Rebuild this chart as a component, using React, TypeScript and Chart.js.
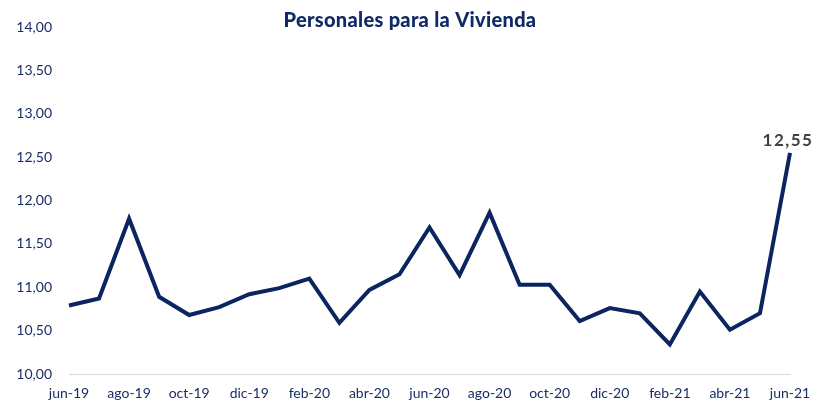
import React, { useEffect, useRef } from "react";
import { Chart, registerables } from "chart.js";

Chart.register(...registerables);

const months: string[] = [
  "jun-19", "jul-19", "ago-19", "sep-19", "oct-19", "nov-19", "dic-19",
  "ene-20", "feb-20", "mar-20", "abr-20", "may-20", "jun-20", "jul-20",
  "ago-20", "sep-20", "oct-20", "nov-20", "dic-20", "ene-21", "feb-21",
  "mar-21", "abr-21", "may-21", "jun-21",
];

const rates: number[] = [
  10.79, 10.87, 11.79, 10.89, 10.68, 10.77, 10.92,
  10.99, 11.10, 10.59, 10.97, 11.15, 11.69, 11.14,
  11.86, 11.03, 11.03, 10.61, 10.76, 10.70, 10.34,
  10.95, 10.51, 10.70, 12.55,
];

const titleText = "Personales para la Vivienda";
const lastLabel = "12,55";

const NAVY = "#0B2560";
const TEXT = "#1B2E63";

const fmt = (v: number) => v.toFixed(2).replace(".", ",");

export default function App() {
  const ref = useRef<HTMLCanvasElement | null>(null);

  useEffect(() => {
    if (!ref.current) return;
    const overlay = {
      id: "overlay",
      afterDraw(chart: any) {
        const ctx = chart.ctx;
        ctx.save();
        ctx.fillStyle = "#0F2A66";
        ctx.font = "900 20px Lato";
        (ctx as any).letterSpacing = "0.3px";
        ctx.textAlign = "center";
        ctx.textBaseline = "alphabetic";
        ctx.fillText(titleText, 410, 27);
        const meta = chart.getDatasetMeta(0);
        const p = meta.data[meta.data.length - 1];
        ctx.fillStyle = "#404040";
        ctx.font = "bold 17px Lato";
        (ctx as any).letterSpacing = "1.5px";
        ctx.textAlign = "center";
        ctx.fillText(lastLabel, p.x - 2, p.y - 7);
        ctx.restore();
      },
    };
    const chart = new Chart(ref.current, {
      type: "line",
      data: {
        labels: months,
        datasets: [
          {
            data: rates,
            borderColor: NAVY,
            borderWidth: 4,
            pointRadius: 0,
            tension: 0,
            fill: false,
          },
        ],
      },
      options: {
        animation: false,
        responsive: false,
        maintainAspectRatio: false,
        layout: { padding: { top: 27, right: 27, left: 0, bottom: 0 } },
        plugins: {
          legend: { display: false },
          tooltip: { enabled: false },
          title: { display: false },
        },
        scales: {
          x: {
            offset: false,
            grid: { display: false, drawTicks: false },
            border: { display: true, color: "#D9D9D9", width: 1 },
            afterFit: (s: any) => {
              s.height = 31;
              s.paddingLeft = 0;
              s.paddingRight = 0;
            },
            ticks: {
              autoSkip: false,
              maxRotation: 0,
              padding: 11,
              color: TEXT,
              font: { family: "Lato", size: 14 },
              callback: (_v: any, i: number) => (i % 2 === 0 ? months[i] : ""),
            },
          },
          y: {
            min: 10,
            max: 14,
            grid: { display: false, drawTicks: false },
            border: { display: false },
            afterFit: (s: any) => { s.width = 69; },
            ticks: {
              stepSize: 0.5,
              padding: 17,
              color: TEXT,
              font: { family: "Lato", size: 14 },
              callback: (v: any) => fmt(Number(v)),
            },
          },
        },
      },
      plugins: [overlay],
    });
    return () => chart.destroy();
  }, []);

  return (
    <div style={{ position: "fixed", left: 0, top: 0, width: 817, height: 405, background: "#fff" }}>
      <canvas ref={ref} width={817} height={405} style={{ display: "block" }} />
    </div>
  );
}
